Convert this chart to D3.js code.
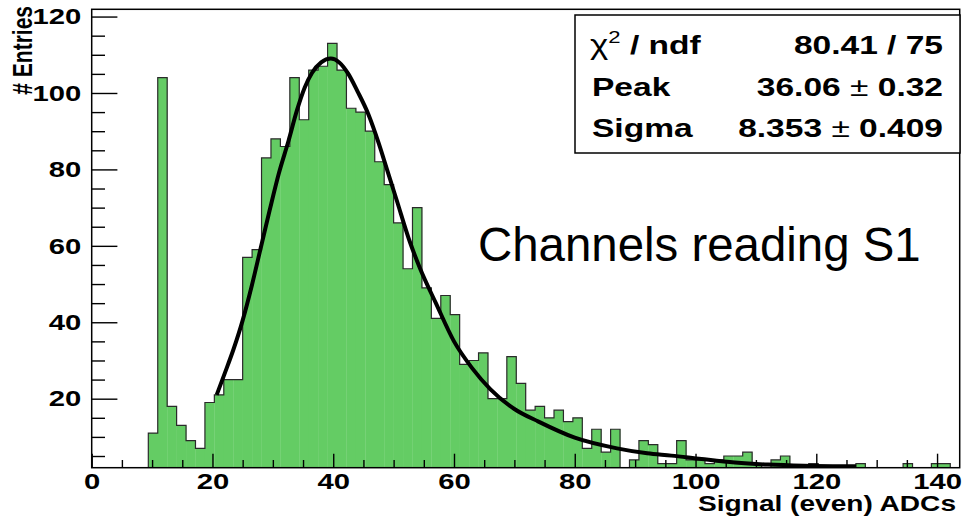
<!DOCTYPE html>
<html>
<head>
<meta charset="utf-8">
<script src="https://cdn.jsdelivr.net/npm/d3@7"></script>
<style>
  html, body { margin: 0; padding: 0; background: #fff; }
  svg { display: block; }
  .tick line { stroke: #000; stroke-width: 1.4; }
</style>
</head>
<body>
<svg id="chart" width="963" height="516"></svg>
<script>
// Histogram: 92 bins of width 1.5625 ADC starting at 0
const binWidth = 1.5625;
const binCounts = [
  0, 0, 0, 0, 0, 0, 11, 104, 18, 13,
  9, 7, 19, 21, 25, 25, 57, 59, 83, 88,
  86, 104, 93, 106, 107, 113, 106, 96, 95, 90,
  82, 76, 66, 54, 70, 49, 41, 47, 42, 29,
  30, 32, 20, 20, 31, 24, 17, 18, 15, 17,
  14, 15, 7, 12, 6, 12, 1, 4, 9, 8,
  3, 3, 9, 4, 4, 3, 4, 5, 5, 6,
  3, 2, 4, 5, 2, 2, 3, 0, 0, 0,
  0, 3, 0, 0, 0, 0, 3, 0, 0, 3,
  3, 0
];

// Fitted curve sampled along its range
const fitX = [20.7, 22, 23.5, 25, 26.5, 28, 29.5, 31, 32.6, 34,
              35.3, 36.5, 38, 39.6, 41, 42.5, 44, 45.8, 47.5, 48.9,
              50.5, 52.7, 54.4, 57, 60, 63, 66, 70, 74, 80,
              87, 92, 96, 101, 106.5, 112, 118, 126.6];
const fitY = [21, 26.5, 33, 40.5, 49.5, 59.5, 69.5, 79, 87.5, 95.5,
              101.5, 105.3, 108, 109, 108, 105, 100.5, 94.5, 87, 80,
              72, 61, 54, 45, 35, 28, 22.5, 17.3, 14, 9.8,
              7, 5.7, 5.1, 4.2, 3.3, 2.75, 2.45, 2.3];

// Axis ticks
const xMajorTicks = [0, 20, 40, 60, 80, 100, 120, 140];
const xMinorTicks = d3.range(0, 144, 5).filter(v => v % 20 !== 0);
const yMajorTicks = [20, 40, 60, 80, 100, 120];
const yMinorTicks = d3.range(5, 122, 5).filter(v => v % 20 !== 0);

// Fit statistics
const statLabels = ["Peak", "Sigma"];
const statValues = ["36.06 \u00b1 0.32", "8.353 \u00b1 0.409"];
const chi2Value = "80.41 / 75";

const xDomain = [0, 143.75];
const yDomain = [1.94, 121.9];

const frame = { left: 91.7, right: 959.7, top: 9.3, bottom: 467.7 };
const SX = 1.3; // horizontal stretch of the canvas text
const FONT = "'Liberation Sans', Arial, Helvetica, sans-serif";
const GREEN = "#64cc64";
const TICK_FS = 22.5;
const STAT_FS = 25.8;

const svg = d3.select("#chart");

const x = d3.scaleLinear().domain(xDomain).range([frame.left, frame.right]);
const y = d3.scaleLinear().domain(yDomain).range([frame.bottom, frame.top]);

svg.append("defs").append("clipPath").attr("id", "plotclip")
  .append("rect")
  .attr("x", frame.left).attr("y", frame.top)
  .attr("width", frame.right - frame.left)
  .attr("height", frame.bottom - frame.top);

const plot = svg.append("g").attr("clip-path", "url(#plotclip)");

const bins = binCounts.map((c, i) => ({ x0: i * binWidth, x1: (i + 1) * binWidth, c }));

// filled bars
plot.append("g").selectAll("rect")
  .data(bins.filter(b => b.c > 0))
  .join("rect")
  .attr("x", d => x(d.x0))
  .attr("width", d => x(d.x1) - x(d.x0) + 0.3)
  .attr("y", d => y(d.c))
  .attr("height", d => Math.max(0, y(0) - y(d.c)))
  .attr("fill", GREEN);

// contour of the histogram
const contourPts = [[bins[0].x0, 0]];
bins.forEach(b => contourPts.push([b.x0, b.c]));
contourPts.push([bins[bins.length - 1].x1, bins[bins.length - 1].c]);
contourPts.push([bins[bins.length - 1].x1, 0]);
plot.append("path")
  .attr("d", d3.line().x(d => x(d[0])).y(d => y(d[1])).curve(d3.curveStepAfter)(contourPts))
  .attr("fill", "none")
  .attr("stroke", "#2a2a2a")
  .attr("stroke-width", 1.2);

// fit function
const fitPts = fitX.map((v, i) => [v, fitY[i]]);
plot.append("path")
  .attr("d", d3.line().x(d => x(d[0])).y(d => y(d[1])).curve(d3.curveMonotoneX)(fitPts))
  .attr("fill", "none")
  .attr("stroke", "#000")
  .attr("stroke-width", 4)
  .attr("stroke-linejoin", "round");

// axes
function stretchTickText(sel) {
  sel.selectAll("text").each(function () {
    const t = d3.select(this);
    const tx = +t.attr("x") || 0;
    t.attr("x", tx / SX).attr("transform", `scale(${SX},1)`);
  });
}

const yAxisMajor = d3.axisLeft(y).tickValues(yMajorTicks).tickSize(-25.7).tickPadding(10.5).tickSizeOuter(0);
const gy = svg.append("g").attr("transform", `translate(${frame.left},0)`).call(yAxisMajor);
gy.select(".domain").remove();
gy.selectAll("text").attr("font-family", FONT).attr("font-weight", "bold").attr("font-size", TICK_FS).attr("fill", "#000");
stretchTickText(gy);

const gyMinor = svg.append("g").attr("transform", `translate(${frame.left},0)`)
  .call(d3.axisLeft(y).tickValues(yMinorTicks).tickSize(-13.3).tickFormat(""));
gyMinor.select(".domain").remove();

const xAxisMajor = d3.axisBottom(x).tickValues(xMajorTicks).tickSize(-14).tickPadding(5.3).tickSizeOuter(0);
const gx = svg.append("g").attr("transform", `translate(0,${frame.bottom})`).call(xAxisMajor);
gx.select(".domain").remove();
gx.selectAll("text").attr("font-family", FONT).attr("font-weight", "bold").attr("font-size", TICK_FS).attr("fill", "#000");
stretchTickText(gx);

const gxMinor = svg.append("g").attr("transform", `translate(0,${frame.bottom})`)
  .call(d3.axisBottom(x).tickValues(xMinorTicks).tickSize(-7.7).tickFormat(""));
gxMinor.select(".domain").remove();

// frame
svg.append("rect")
  .attr("x", frame.left).attr("y", frame.top)
  .attr("width", frame.right - frame.left).attr("height", frame.bottom - frame.top)
  .attr("fill", "none").attr("stroke", "#000").attr("stroke-width", 1.5);

// axis titles
svg.append("text")
  .attr("transform", `translate(956,510.5) scale(${SX},1)`)
  .attr("text-anchor", "end")
  .attr("font-family", FONT).attr("font-weight", "bold").attr("font-size", 21.6)
  .text("Signal (even) ADCs");

svg.append("text")
  .attr("transform", `translate(32,6) scale(${SX},1) rotate(-90)`)
  .attr("text-anchor", "end")
  .attr("font-family", FONT).attr("font-weight", "bold").attr("font-size", 21)
  .text("# Entries");

// statistics box
const box = { left: 575, top: 15, right: 960, bottom: 153 };
svg.append("rect")
  .attr("x", box.left).attr("y", box.top)
  .attr("width", box.right - box.left).attr("height", box.bottom - box.top)
  .attr("fill", "#fff").attr("stroke", "#000").attr("stroke-width", 1.5);

const rowBase = [54, 96, 137];
const chiT = svg.append("text")
  .attr("transform", `translate(590,${rowBase[0]}) scale(${SX},1)`)
  .attr("font-family", FONT).attr("font-size", STAT_FS + 1);
chiT.append("tspan").text("\u03c7");
chiT.append("tspan").attr("font-size", 17).attr("dy", -11).text("2");
chiT.append("tspan").attr("dy", 11).attr("font-weight", "bold").attr("font-size", STAT_FS).text(" / ndf");

svg.append("text")
  .attr("transform", `translate(943,${rowBase[0]}) scale(${SX},1)`)
  .attr("text-anchor", "end")
  .attr("font-family", FONT).attr("font-weight", "bold").attr("font-size", STAT_FS)
  .text(chi2Value);

statLabels.forEach((lab, i) => {
  svg.append("text")
    .attr("transform", `translate(592,${rowBase[i + 1]}) scale(${SX},1)`)
    .attr("font-family", FONT).attr("font-weight", "bold").attr("font-size", STAT_FS)
    .text(lab);
  const parts = statValues[i].split("\u00b1");
  const vt = svg.append("text")
    .attr("transform", `translate(943,${rowBase[i + 1]}) scale(${SX},1)`)
    .attr("text-anchor", "end")
    .attr("font-family", FONT).attr("font-size", STAT_FS);
  vt.append("tspan").attr("font-weight", "bold").text(parts[0]);
  vt.append("tspan").text("\u00b1");
  vt.append("tspan").attr("font-weight", "bold").text(parts[1]);
});

// annotation
svg.append("text")
  .attr("x", 478).attr("y", 261)
  .attr("font-family", FONT).attr("font-size", 47.4)
  .text("Channels reading S1");
</script>
</body>
</html>
